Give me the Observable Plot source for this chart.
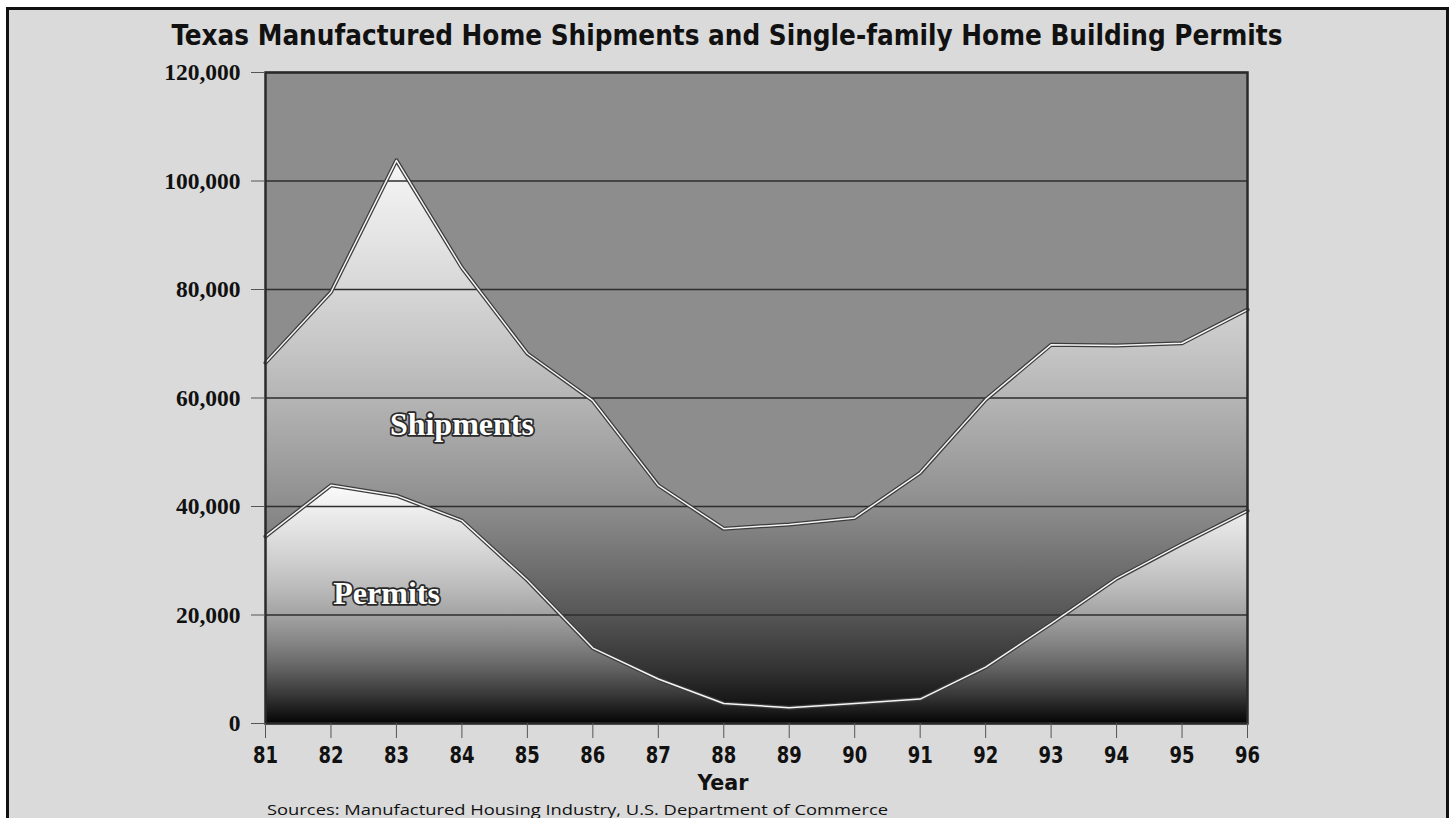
<!DOCTYPE html>
<html><head><meta charset="utf-8">
<script src="https://cdn.jsdelivr.net/npm/d3@7"></script>
<script src="https://cdn.jsdelivr.net/npm/@observablehq/plot@0.6"></script>
<style>
html,body{margin:0;padding:0;background:#fff;overflow:hidden}
#wrap{position:relative;width:1452px;height:818px;overflow:hidden}
#frame{position:absolute;left:6px;top:7px;width:1437px;height:830px;border:3px solid #111;background:#dadada}
#chart{position:absolute;left:0;top:0}
#texts{position:absolute;left:0;top:0}
#defs{position:absolute;left:0;top:0;width:0;height:0}
.narrow{font-family:"Liberation Sans Narrow","DejaVu Sans Condensed","Roboto Condensed","Arial Narrow",sans-serif;font-stretch:condensed}
</style></head><body>
<svg id="defs" width="0" height="0"><defs></defs></svg>
<div id="wrap">
  <div id="frame"></div>
  <div id="chart"></div>
  <svg id="texts" width="1452" height="818"></svg>
</div>
<script>
// ---- data ----
const years = [81, 82, 83, 84, 85, 86, 87, 88, 89, 90, 91, 92, 93, 94, 95, 96];
const shipments = [66500, 79500, 103800, 84000, 68200, 59500, 43900, 35900, 36700, 37900, 46200, 59700, 69800, 69700, 70100, 76300];
const permits = [34500, 43900, 42000, 37400, 26400, 13900, 8200, 3700, 2900, 3700, 4500, 10400, 18400, 26700, 33100, 39200];
const yTicks = [0, 20000, 40000, 60000, 80000, 100000, 120000];
const seriesLabels = [
  {label: "Shipments", year: 84, value: 55000},
  {label: "Permits", year: 82.85, value: 24000}
];
const titleText = "Texas Manufactured Home Shipments and Single-family Home Building Permits";
const xAxisTitle = "Year";
const sourceText = "Sources: Manufactured Housing Industry, U.S. Department of Commerce";

// ---- gradients (styling) ----
const shipStops = [[104000,"#f8f8f8"],[100000,"#f1f1f1"],[90000,"#e5e5e5"],[80000,"#d7d7d7"],[70000,"#c7c7c7"],[60000,"#b5b5b5"],[50000,"#a2a2a2"],[40000,"#8d8d8d"],[30000,"#737373"],[20000,"#565656"],[10000,"#333333"],[0,"#040404"]];
const permStops = [[44000,"#fbfbfb"],[40000,"#f0f0f0"],[35000,"#e0e0e0"],[30000,"#cfcfcf"],[25000,"#bbbbbb"],[20000,"#a3a3a3"],[15000,"#868686"],[10000,"#626262"],[5000,"#363636"],[0,"#050505"]];
const NS = "http://www.w3.org/2000/svg";
function addGradient(id, stops, max) {
  const g = document.createElementNS(NS, "linearGradient");
  g.setAttribute("id", id);
  g.setAttribute("x1", 0); g.setAttribute("y1", 0); g.setAttribute("x2", 0); g.setAttribute("y2", 1);
  for (const [v, c] of stops) {
    const s = document.createElementNS(NS, "stop");
    s.setAttribute("offset", Math.max(0, Math.min(1, 1 - v / max)));
    s.setAttribute("stop-color", c);
    g.appendChild(s);
  }
  document.querySelector("#defs defs").appendChild(g);
}
addGradient("gShip", shipStops, d3.max(shipments));
addGradient("gPerm", permStops, d3.max(permits));

const data = years.map((year, i) => ({year, shipments: shipments[i], permits: permits[i]}));
const narrowFont = '"Liberation Sans Narrow","DejaVu Sans Condensed","Roboto Condensed","Arial Narrow",sans-serif';

const chart = Plot.plot({
  width: 1452, height: 818,
  marginLeft: 265, marginRight: 205, marginTop: 72, marginBottom: 95,
  style: {background: "transparent", overflow: "visible"},
  x: {domain: [81, 96]},
  y: {domain: [0, 120000]},
  marks: [
    Plot.frame({fill: "#8d8d8d", stroke: "none"}),
    Plot.areaY(data, {x: "year", y: "shipments", fill: "url(#gShip)"}),
    Plot.areaY(data, {x: "year", y: "permits", fill: "url(#gPerm)"}),
    Plot.ruleY(yTicks, {stroke: "#2e2e2e", strokeWidth: 1.6}),
    Plot.lineY(data, {x: "year", y: "shipments", stroke: "#3c3c3c", strokeWidth: 4}),
    Plot.lineY(data, {x: "year", y: "shipments", stroke: "#f6f6f6", strokeWidth: 1.5}),
    Plot.lineY(data, {x: "year", y: "permits", stroke: "#3c3c3c", strokeWidth: 4}),
    Plot.lineY(data, {x: "year", y: "permits", stroke: "#f6f6f6", strokeWidth: 1.5}),
    Plot.text(seriesLabels, {x: "year", y: "value", text: "label", fill: "#ffffff", stroke: "#2a2a2a", strokeWidth: 3.5, paintOrder: "stroke", fontSize: 32, fontWeight: "bold", fontFamily: '"Liberation Serif", serif'}),
    Plot.frame({stroke: "#2a2a2a", strokeWidth: 2.5}),
    Plot.axisY({ticks: yTicks, tickSize: 14, tickPadding: 11, tickFormat: d3.format(","), fontSize: 23.5, fontWeight: "bold", fontFamily: '"Liberation Serif", serif', fill: "#111", stroke: "#555", label: null}),
    Plot.axisX({ticks: years, tickSize: 15, tickPadding: 8, tickFormat: d => String(d), fontSize: 23, fontWeight: "bold", fontFamily: narrowFont, fill: "#111", stroke: "#555", label: null})
  ]
});
document.getElementById("chart").appendChild(chart);
// condense the x tick labels like the reference's narrow face
chart.querySelectorAll('g[aria-label="x-axis tick label"] text').forEach(t => {
  t.setAttribute("textLength", 25);
  t.setAttribute("lengthAdjust", "spacingAndGlyphs");
});

// ---- title, axis title, source ----
const texts = document.getElementById("texts");
function addText(str, x, y, size, weight, anchor, len, cls, family) {
  const t = document.createElementNS(NS, "text");
  t.textContent = str;
  t.setAttribute("x", x); t.setAttribute("y", y);
  t.setAttribute("font-size", size);
  t.setAttribute("font-weight", weight);
  t.setAttribute("text-anchor", anchor);
  t.setAttribute("fill", "#111");
  if (cls) t.setAttribute("class", cls);
  if (family) t.setAttribute("font-family", family);
  t.setAttribute("textLength", len);
  t.setAttribute("lengthAdjust", "spacingAndGlyphs");
  texts.appendChild(t);
}
addText(titleText, 727, 45, 29, "bold", "middle", 1111, "narrow");
addText(xAxisTitle, 723, 790, 22, "bold", "middle", 51, "narrow");
addText(sourceText, 267, 815, 15, "normal", "start", 621, null, '"Open Sans","Noto Sans",sans-serif');
</script>
</body></html>
